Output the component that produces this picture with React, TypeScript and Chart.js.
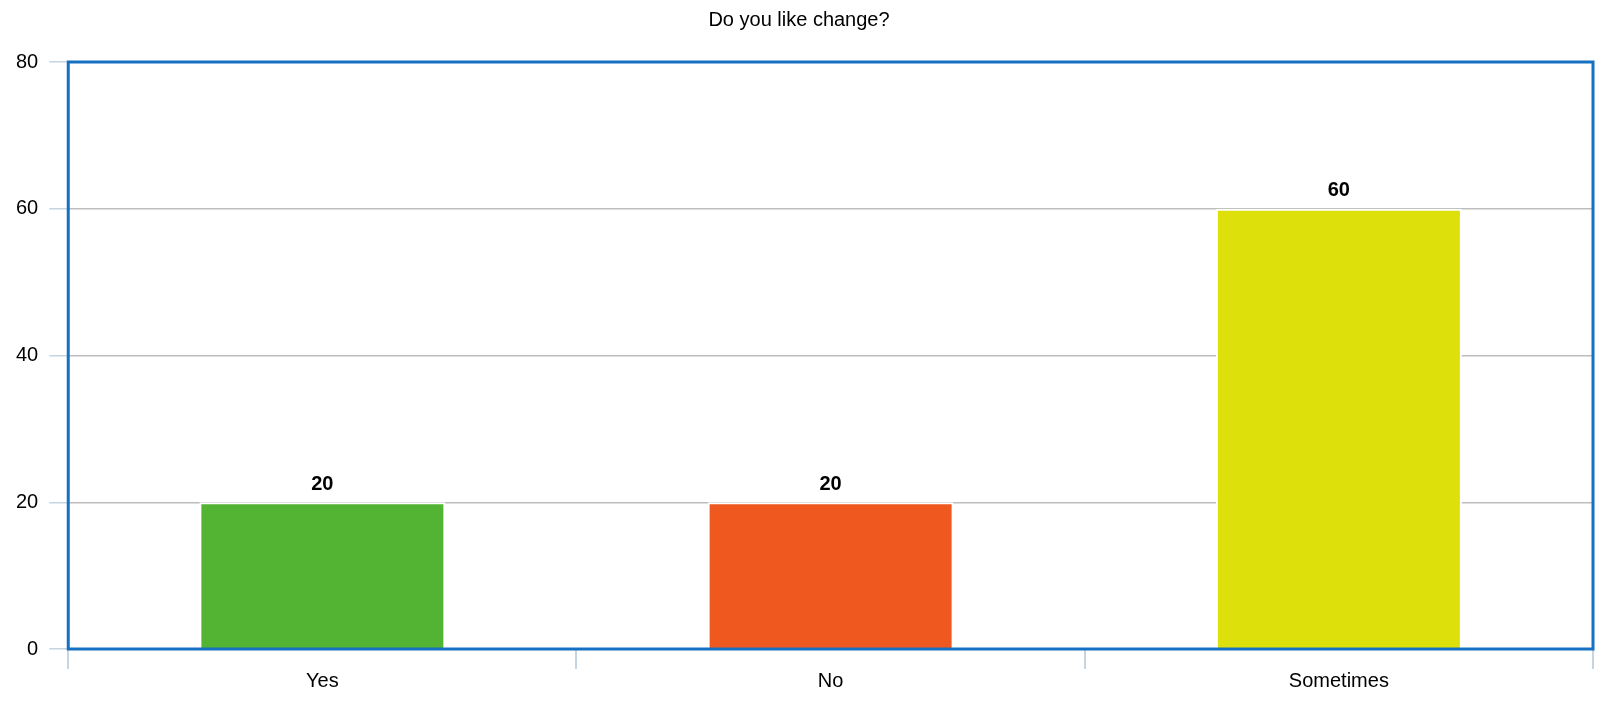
import React, { useEffect, useRef } from "react";
import { Chart, registerables } from "chart.js";

Chart.register(...registerables);

const categories = ["Yes", "No", "Sometimes"];
const values = [20, 20, 60];
const barColors = ["#52b432", "#ef581f", "#dde00a"];
const titleText = "Do you like change?";
const yMin = 0;
const yMax = 80;
const yStep = 20;

const FONT = "Arial, 'Liberation Sans', Helvetica, sans-serif";

const frameAndLabels = {
  id: "frameAndLabels",
  afterDatasetsDraw(chart: any) {
    const { ctx, chartArea } = chart;
    const meta = chart.getDatasetMeta(0);
    ctx.save();
    ctx.font = `bold 20px ${FONT}`;
    ctx.fillStyle = "#000";
    ctx.textAlign = "center";
    ctx.textBaseline = "bottom";
    meta.data.forEach((bar: any, i: number) => {
      ctx.fillText(String(values[i]), bar.x, bar.y - 8);
    });
    ctx.strokeStyle = "#1670c2";
    ctx.lineWidth = 3;
    ctx.strokeRect(chartArea.left, chartArea.top, chartArea.right - chartArea.left, chartArea.bottom - chartArea.top);
    ctx.restore();
  },
};

export default function App() {
  const ref = useRef<HTMLCanvasElement>(null);
  useEffect(() => {
    if (!ref.current) return;
    const chart = new Chart(ref.current, {
      type: "bar",
      data: {
        labels: categories,
        datasets: [
          {
            data: values,
            backgroundColor: barColors,
            borderColor: "#ffffff",
            borderWidth: 2,
            barPercentage: 0.484,
            categoryPercentage: 1,
          },
        ],
      },
      options: {
        animation: false,
        responsive: true,
        maintainAspectRatio: false,
        layout: { padding: { left: -3, right: 10, top: 0, bottom: 1 } },
        plugins: {
          legend: { display: false },
          tooltip: { enabled: false },
          title: {
            display: true,
            text: titleText,
            color: "#000",
            font: { family: FONT, size: 20, weight: "normal" },
            padding: { top: 0, bottom: 30 },
          },
        },
        scales: {
          x: {
            grid: {
              offset: true,
              drawOnChartArea: false,
              drawTicks: true,
              tickLength: 20,
              tickColor: "#c5d5e2",
              lineWidth: 2,
            },
            border: { display: false },
            ticks: { color: "#000", font: { family: FONT, size: 20 }, padding: 0 },
          },
          y: {
            min: yMin,
            max: yMax,
            ticks: { stepSize: yStep, color: "#000", font: { family: FONT, size: 20 }, padding: 11 },
            grid: { color: "#bdbdbd", tickColor: "#c5d5e2", tickLength: 19, lineWidth: 1.5 },
            border: { display: false },
          },
        },
      },
      plugins: [frameAndLabels],
    });
    return () => chart.destroy();
  }, []);
  return (
    <div style={{ width: 1595, height: 686, position: "relative" }}>
      <canvas ref={ref} />
    </div>
  );
}
